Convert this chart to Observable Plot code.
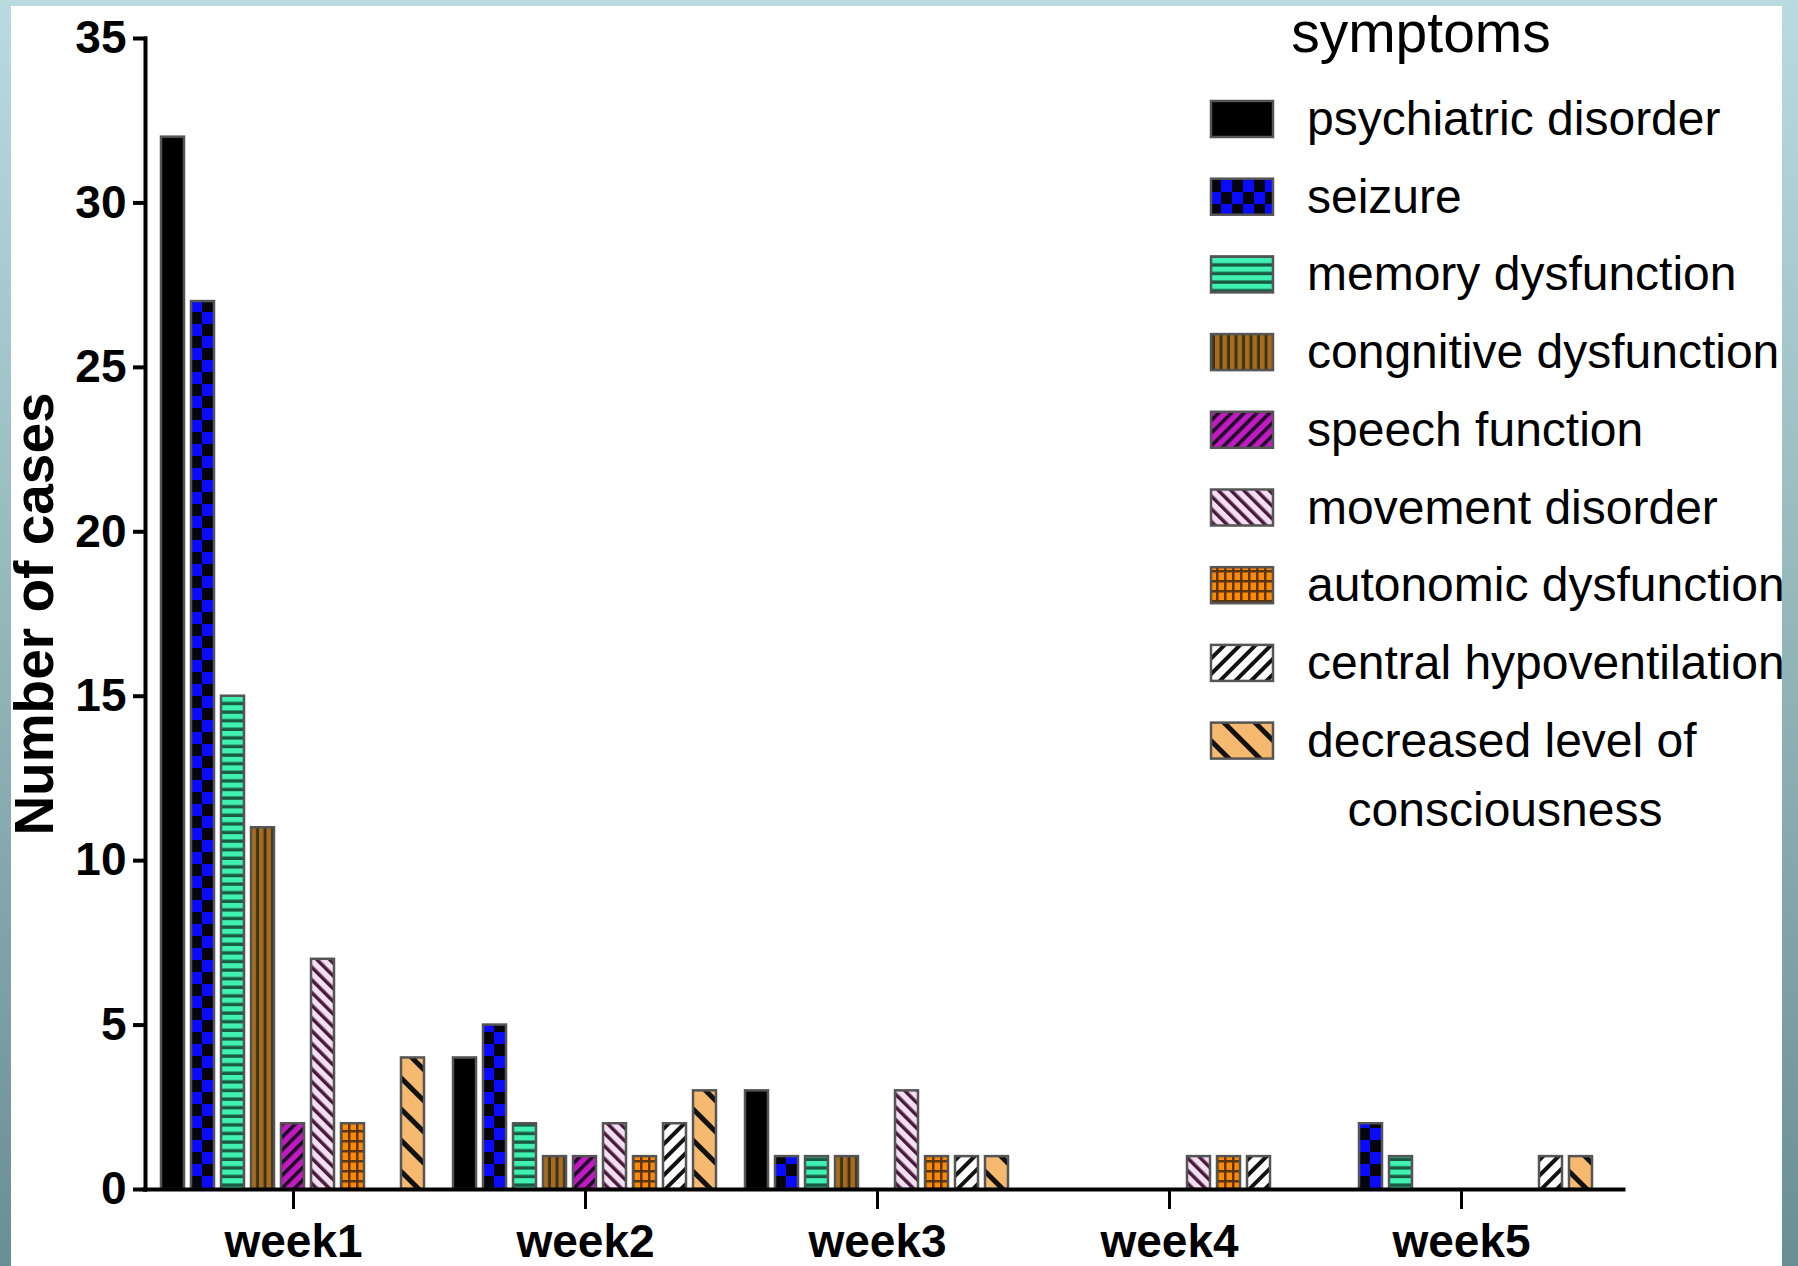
<!DOCTYPE html>
<html>
<head>
<meta charset="utf-8">
<script src="https://cdn.jsdelivr.net/npm/d3@7"></script>
<script src="https://cdn.jsdelivr.net/npm/@observablehq/plot@0.6"></script>
<style>
  html, body { margin: 0; padding: 0; }
  #page { position: relative; width: 1798px; height: 1266px; overflow: hidden;
    background: linear-gradient(to bottom, #b9dbdf 0%, #93b6b9 50%, #6a8f92 100%); font-family: "Liberation Sans", Arial, sans-serif; }
  #panel { position: absolute; left: 11px; top: 6px; width: 1771px; height: 1260px; background: #fff; }
  #chart, #legend { position: absolute; left: 0; top: 0; }
</style>
</head>
<body>
<div id="page">
  <div id="panel"></div>
  <svg width="0" height="0" style="position:absolute">
    <defs>
      <pattern id="pat-seizure" patternUnits="userSpaceOnUse" width="22" height="24">
        <rect width="22" height="24" fill="#050510"/>
        <rect x="0" y="0" width="11" height="12" fill="#0a0aff"/>
        <rect x="11" y="12" width="11" height="12" fill="#0a0aff"/>
      </pattern>
      <pattern id="pat-memory" patternUnits="userSpaceOnUse" width="10" height="8.6">
        <rect width="10" height="8.6" fill="#3ff2b3"/>
        <rect y="5.2" width="10" height="3.4" fill="#1b5a42"/>
      </pattern>
      <pattern id="pat-cognitive" patternUnits="userSpaceOnUse" width="7.5" height="10">
        <rect width="7.5" height="10" fill="#a86c1b"/>
        <rect x="4.5" width="3" height="10" fill="#3a3320"/>
      </pattern>
      <pattern id="pat-speech" patternUnits="userSpaceOnUse" width="9" height="10" patternTransform="rotate(45)">
        <rect width="9" height="10" fill="#c21ac2"/>
        <rect width="3.5" height="10" fill="#1a0a22"/>
      </pattern>
      <pattern id="pat-movement" patternUnits="userSpaceOnUse" width="9" height="10" patternTransform="rotate(-45)">
        <rect width="9" height="10" fill="#f3dff2"/>
        <rect width="3.5" height="10" fill="#4a1a3c"/>
      </pattern>
      <pattern id="pat-autonomic" patternUnits="userSpaceOnUse" width="8" height="10">
        <rect width="8" height="10" fill="#ff8a00"/>
        <rect width="2.5" height="10" fill="#5a3510"/>
        <rect width="8" height="2.5" fill="#5a3510"/>
      </pattern>
      <pattern id="pat-central" patternUnits="userSpaceOnUse" width="11" height="10" patternTransform="rotate(45)">
        <rect width="11" height="10" fill="#ffffff"/>
        <rect width="4" height="10" fill="#111111"/>
      </pattern>
      <pattern id="pat-decreased" patternUnits="userSpaceOnUse" width="22" height="10" patternTransform="rotate(-45)">
        <rect width="22" height="10" fill="#f6b970"/>
        <rect width="5" height="10" fill="#111111"/>
      </pattern>
    </defs>
  </svg>
  <div id="chart"></div>
  <div id="legend"></div>
</div>
<script>
// ---- data ----
const weeks = ["week1", "week2", "week3", "week4", "week5"];
const symptoms = [
  "psychiatric disorder",
  "seizure",
  "memory dysfunction",
  "congnitive dysfunction",
  "speech function",
  "movement disorder",
  "autonomic dysfunction",
  "central hypoventilation",
  "decreased level of consciousness"
];
const psychiatricDisorder     = [32, 4, 3, 0, 0];
const seizure                 = [27, 5, 1, 0, 2];
const memoryDysfunction       = [15, 2, 1, 0, 1];
const congnitiveDysfunction   = [11, 1, 1, 0, 0];
const speechFunction          = [2, 1, 0, 0, 0];
const movementDisorder        = [7, 2, 3, 1, 0];
const autonomicDysfunction    = [2, 1, 1, 1, 0];
const centralHypoventilation  = [0, 2, 1, 1, 1];
const decreasedConsciousness  = [4, 3, 1, 0, 1];
const yTicks = [0, 5, 10, 15, 20, 25, 30, 35];
const fills = ["#000000", "url(#pat-seizure)", "url(#pat-memory)", "url(#pat-cognitive)",
  "url(#pat-speech)", "url(#pat-movement)", "url(#pat-autonomic)", "url(#pat-central)", "url(#pat-decreased)"];

const series = [psychiatricDisorder, seizure, memoryDysfunction, congnitiveDysfunction, speechFunction,
  movementDisorder, autonomicDysfunction, centralHypoventilation, decreasedConsciousness];
const rows = [];
symptoms.forEach((s, i) => weeks.forEach((w, j) => rows.push({week: w, symptom: s, count: series[i][j]})));

const chart = Plot.plot({
  width: 1798,
  height: 1266,
  marginTop: 38,
  marginBottom: 77,
  marginLeft: 143,
  marginRight: 175,
  style: {background: "transparent", fontFamily: "'Liberation Sans', Arial, sans-serif", color: "#000"},
  fx: {domain: weeks, range: [146.3, 1607], padding: 0, axis: null},
  x: {domain: symptoms, paddingInner: 0.24, paddingOuter: 0.448, align: 0.47, axis: null},
  y: {domain: [0, 35], axis: null},
  color: {domain: symptoms, range: fills},
  marks: [
    Plot.barY(rows, {fx: "week", x: "symptom", y: "count", fill: "symptom",
      stroke: "#555", strokeWidth: 2.5, filter: d => d.count > 0}),
    Plot.frame({anchor: "bottom", facet: "super", stroke: "#000", strokeWidth: 4, insetLeft: -3, insetRight: -16}),
    Plot.frame({anchor: "left", facet: "super", stroke: "#000", strokeWidth: 4, insetLeft: -2}),
    Plot.axisY({ticks: yTicks, tickSize: 14, tickPadding: 7, fontSize: 46, fontWeight: "bold",
      strokeWidth: 4, label: "Number of cases", labelAnchor: "center", labelArrow: "none", labelOffset: 134}),
    Plot.axisFx({anchor: "bottom", tickSize: 20, tickPadding: 15, fontSize: 46, fontWeight: "bold",
      strokeWidth: 3, label: null})
  ]
});
document.getElementById("chart").appendChild(chart);
const yl = chart.querySelector('g[aria-label="y-axis label"]');
if (yl) yl.setAttribute("font-size", 55);

// ---- legend ----
const lg = d3.select("#legend").append("svg").attr("width", 1798).attr("height", 1266)
  .style("font-family", "'Liberation Sans', Arial, sans-serif");
lg.append("text").attr("x", 1421).attr("y", 52).attr("text-anchor", "middle")
  .attr("font-size", 57).text("symptoms");
symptoms.forEach((s, i) => {
  const cy = 119 + i * 77.7;
  lg.append("rect").attr("x", 1211).attr("y", cy - 18).attr("width", 62).attr("height", 36)
    .attr("fill", fills[i]).attr("stroke", "#555").attr("stroke-width", 2.5);
  const parts = s === "decreased level of consciousness" ? ["decreased level of", "consciousness"] : [s];
  lg.append("text").attr("x", 1307).attr("y", cy + 16).attr("font-size", 48).text(parts[0]);
  if (parts.length > 1) {
    lg.append("text").attr("x", 1505).attr("y", cy + 85).attr("text-anchor", "middle").attr("font-size", 48).text(parts[1]);
  }
});
</script>
</body>
</html>
